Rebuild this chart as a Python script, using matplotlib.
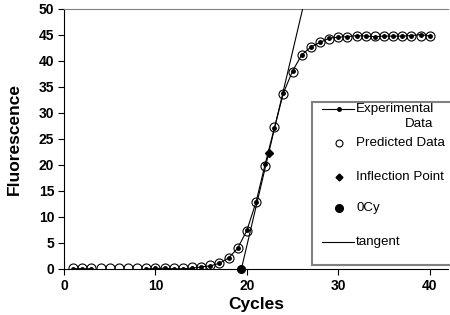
import matplotlib
matplotlib.use("Agg")
import matplotlib.pyplot as plt
from matplotlib.lines import Line2D
from matplotlib.patches import Rectangle

plt.rcParams["font.family"] = ["Liberation Sans", "DejaVu Sans"]
plt.rcParams["font.weight"] = "bold"

cycles = list(range(1, 41))
experimental = [0.05, 0.05, 0.05, -0.5, -0.5, -0.5, -0.5, -0.5, 0.0, 0.1,
                0.15, 0.0, 0.05, 0.15, 0.4, 0.6, 1.1, 2.1, 4.0, 7.4,
                12.8, 20.1, 27.0, 33.8, 38.0, 41.1, 42.6, 43.5, 44.3, 44.5,
                44.6, 44.8, 44.7, 44.6, 44.7, 44.7, 44.7, 44.8, 45.0, 44.7]
predicted = [0.2, 0.2, 0.2, 0.2, 0.2, 0.2, 0.2, 0.2, 0.2, 0.2,
             0.2, 0.2, 0.25, 0.3, 0.45, 0.7, 1.2, 2.2, 4.1, 7.3,
             12.9, 19.8, 27.2, 33.6, 37.9, 41.0, 42.7, 43.6, 44.2, 44.5,
             44.6, 44.7, 44.7, 44.7, 44.7, 44.7, 44.7, 44.7, 44.7, 44.7]
infl_x, infl_y = 22.4, 22.35
ocy_x, ocy_y = 19.4, 0.0

# tangent through 0Cy and the inflection point, up to the top of the axis
slope = (infl_y - ocy_y) / (infl_x - ocy_x)
tan_x = [ocy_x, ocy_x + 50 / slope]
tan_y = [0, 50]

fig = plt.figure(figsize=(4.5, 3.15), dpi=100)
ax = fig.add_axes([64 / 450, 1 - 269 / 315, 384 / 450, 260.5 / 315])

ax.plot(cycles, experimental, "k-", lw=0.8, marker="o", ms=2.5, zorder=3)
ax.plot(cycles, predicted, ls="none", marker="o", ms=6.5, mfc="none",
        mec="black", mew=0.8, zorder=4)
ax.plot(tan_x, tan_y, "k-", lw=0.8, zorder=3)
ax.plot([infl_x], [infl_y], "kD", ms=4, zorder=5)
ax.plot([ocy_x], [ocy_y], "ko", ms=5.5, zorder=5, clip_on=False)

ax.set_xlim(0, 42)
ax.set_ylim(0, 50)
ax.set_xticks([0, 10, 20, 30, 40])
ax.set_yticks(range(0, 51, 5))
ax.tick_params(direction="out", length=4, width=0.8, labelsize=10, pad=3)
ax.spines["right"].set_visible(False)
ax.spines["top"].set_color("#808080")
ax.spines["left"].set_linewidth(0.8)
ax.spines["bottom"].set_linewidth(0.8)

ax.set_xlabel("Cycles", fontsize=12.5, fontweight="bold", labelpad=3)
ax.set_ylabel("Fluorescence", fontsize=12.5, fontweight="bold", labelpad=12)

# legend drawn by hand (Excel style layout)
def px(x, y):
    return (x - 64) / 384, (269 - y) / 260.5

tr = ax.transAxes
x0, y0 = px(312, 265)
x1, y1 = px(500, 102)
ax.add_patch(Rectangle((x0, y0), x1 - x0, y1 - y0, transform=tr, fc="white",
                       ec="#808080", lw=1.5, zorder=10, clip_on=False))

hx = [px(322, 0)[0], px(354, 0)[0]]
hc = px(339, 0)[0]
tx = px(356, 0)[0]
fs = 9.6
kw = dict(transform=tr, fontsize=fs, va="center", zorder=12, fontweight="normal")

y = px(0, 109)[1]
ax.add_line(Line2D(hx, [y, y], color="k", lw=0.8, transform=tr, zorder=11))
ax.plot([hc], [y], "ko", ms=2.5, transform=tr, zorder=11, clip_on=False)
ax.text(tx, y, "Experimental", **kw)
ax.text(px(433, 0)[0], px(0, 124)[1], "Data", ha="right", **kw)

y = px(0, 143)[1]
ax.plot([hc], [y], "o", ms=5, mfc="none", mec="k", mew=0.8, transform=tr,
        zorder=11, clip_on=False)
ax.text(tx, y, "Predicted Data", **kw)

y = px(0, 177)[1]
ax.plot([hc], [y], "kD", ms=3.5, transform=tr, zorder=11, clip_on=False)
ax.text(tx, y, "Inflection Point", **kw)

y = px(0, 208)[1]
ax.plot([hc], [y], "ko", ms=5.5, transform=tr, zorder=11, clip_on=False)
ax.text(tx, y, "0Cy", **kw)

y = px(0, 242)[1]
ax.add_line(Line2D(hx, [y, y], color="k", lw=0.8, transform=tr, zorder=11))
ax.text(tx, y, "tangent", **kw)

fig.savefig("out.png", dpi=100)
